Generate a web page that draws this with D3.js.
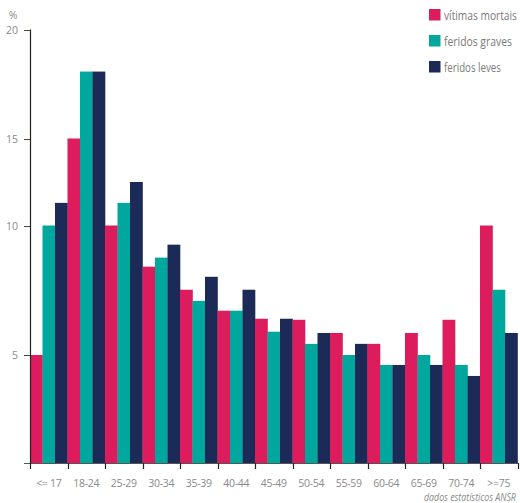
<!DOCTYPE html>
<html><head><meta charset="utf-8">
<script src="https://cdn.jsdelivr.net/npm/d3@7"></script>
<style>body{margin:0;background:#fff}text{font-family:"Open Sans",sans-serif}</style>
</head><body>
<svg id="c" width="520" height="503"></svg>
<script>
const categories = ["<= 17","18-24","25-29","30-34","35-39","40-44","45-49","50-54","55-59","60-64","65-69","70-74",">=75"];
const seriesNames = ["vítimas mortais","feridos graves","feridos leves"];
const mortais = [5,15,10,8.41,7.52,6.71,6.4,6.36,5.85,5.43,5.85,6.36,10];
const graves  = [10,18.07,11.3,8.76,7.09,6.71,5.9,5.43,5,4.54,5,4.54,7.52];
const leves   = [11.3,18.07,12.5,9.26,8.02,7.52,6.4,5.85,5.43,4.54,4.54,4.03,5.85];
const yTicks = [5,10,15,20];
const colors = ["#DC1C5D","#00A79D","#1B2A56"];
const series = [mortais, graves, leves];

const svg = d3.select("#c");
const x0 = d3.scaleBand().domain(categories).range([30,517.5]).padding(0);
const x1 = d3.scaleBand().domain(d3.range(3)).range([0,x0.bandwidth()]).padding(0);
const y = d3.scaleLinear().domain([0,5,10,15,20]).range([463,355,225.5,138.5,29.5]);

const g = svg.append("g");
categories.forEach((c,i)=>{
  series.forEach((s,j)=>{
    g.append("rect").attr("x",x0(c)+x1(j)).attr("width",x1.bandwidth()+0.3)
     .attr("y",y(s[i])).attr("height",y(0)-y(s[i])).attr("fill",colors[j]);
  });
});

// condensed text helper: scale horizontally to a target width
function condensed(x, yy, txt, size, target, anchor, extra){
  const grp = svg.append("g");
  const t = grp.append("text").attr("font-size",size).attr("fill","#7a7a7a").text(txt);
  if (extra) extra(t);
  const len = t.node().getComputedTextLength();
  const s = target/len;
  const tx = anchor==="end" ? x - target : x;
  grp.attr("transform",`translate(${tx},${yy}) scale(${s},1)`);
  return t;
}

// y axis
svg.append("line").attr("x1",30.5).attr("x2",30.5).attr("y1",y(20)).attr("y2",463.5).attr("stroke","#222").attr("stroke-width",1.2);
[0,...yTicks].forEach(t=>{
  svg.append("line").attr("x1",24).attr("x2",30).attr("y1",Math.round(y(t))+0.5).attr("y2",Math.round(y(t))+0.5).attr("stroke","#444").attr("stroke-width",1);
});
yTicks.forEach(t=>{
  svg.append("text").attr("x",18).attr("y",y(t)+4).attr("text-anchor","end").attr("font-size",10.5).attr("fill","#8a8a8a").text(t);
});
svg.append("text").attr("x",13).attr("y",19).attr("text-anchor","middle").attr("font-size",10.5).attr("fill","#8a8a8a").text("%");

// x axis
svg.append("line").attr("x1",24).attr("x2",518).attr("y1",463.5).attr("y2",463.5).attr("stroke","#555").attr("stroke-width",1);
const bounds = categories.map(c=>x0(c)).concat([x0.range()[1]]);
bounds.forEach(b=>{
  svg.append("line").attr("x1",Math.round(b)+0.5).attr("x2",Math.round(b)+0.5).attr("y1",463).attr("y2",469).attr("stroke","#222").attr("stroke-width",1.2);
});
categories.forEach(c=>{
  svg.append("text").attr("x",x0(c)+x0.bandwidth()/2).attr("y",487).attr("text-anchor","middle")
    .attr("font-size",10.5).attr("fill","#8a8a8a").attr("letter-spacing",-0.3).text(c);
});
condensed(516, 501, "dados estatísticos ANSR", 11, 92, "end", t=>t.attr("font-style","italic").attr("fill","#8a8a8a"));

// legend
const legendWidths = [73,68,57];
seriesNames.forEach((n,j)=>{
  svg.append("rect").attr("x",429).attr("y",9+26*j).attr("width",11.5).attr("height",11.5).attr("fill",colors[j]);
  condensed(444, 19.5+26*j, n, 13, legendWidths[j], "start");
});
</script>
</body></html>
